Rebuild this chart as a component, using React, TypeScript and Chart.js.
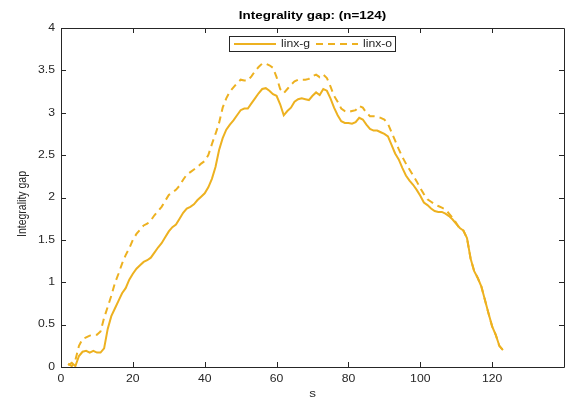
import React, { useEffect, useRef } from "react";
import { Chart, registerables } from "chart.js";

Chart.register(...registerables);

const chartTitle = "Integrality gap: (n=124)";
const xTitle = "s";
const yTitle = "Integrality gap";
const seriesNames = ["linx-g", "linx-o"];

const sValues = [
  2, 3, 4, 5, 6, 7, 8, 9, 10, 11, 12, 13, 14, 15, 16, 17, 18, 19, 20, 21,
  22, 23, 24, 25, 26, 27, 28, 29, 30, 31, 32, 33, 34, 35, 36, 37, 38, 39, 40, 41,
  42, 43, 44, 45, 46, 47, 48, 49, 50, 51, 52, 53, 54, 55, 56, 57, 58, 59, 60, 61,
  62, 63, 64, 65, 66, 67, 68, 69, 70, 71, 72, 73, 74, 75, 76, 77, 78, 79, 80, 81,
  82, 83, 84, 85, 86, 87, 88, 89, 90, 91, 92, 93, 94, 95, 96, 97, 98, 99, 100, 101,
  102, 103, 104, 105, 106, 107, 108, 109, 110, 111, 112, 113, 114, 115, 116, 117, 118, 119, 120, 121,
  122, 123,
];

const linxG = [
  0.02, 0.05, 0.01, 0.13, 0.18, 0.19, 0.17, 0.19, 0.17, 0.17, 0.22, 0.45, 0.6, 0.69, 0.78, 0.87, 0.93, 1.03, 1.1, 1.16,
  1.2, 1.24, 1.26, 1.29, 1.35, 1.41, 1.46, 1.53, 1.6, 1.65, 1.68, 1.75, 1.82, 1.87, 1.89, 1.92, 1.97, 2.01, 2.05, 2.12,
  2.22, 2.36, 2.56, 2.7, 2.8, 2.86, 2.91, 2.97, 3.03, 3.05, 3.05, 3.11, 3.17, 3.23, 3.28, 3.29, 3.26, 3.22, 3.2, 3.1,
  2.97, 3.02, 3.06, 3.13, 3.16, 3.17, 3.16, 3.15, 3.2, 3.24, 3.21, 3.28, 3.26, 3.17, 3.06, 2.97, 2.9, 2.88, 2.88, 2.87,
  2.89, 2.94, 2.92, 2.86, 2.81, 2.79, 2.79, 2.77, 2.75, 2.72, 2.62, 2.52, 2.45, 2.35, 2.26, 2.2, 2.15, 2.09, 2.02, 1.94,
  1.91, 1.87, 1.84, 1.83, 1.83, 1.81, 1.78, 1.74, 1.69, 1.64, 1.61, 1.52, 1.28, 1.13, 1.05, 0.95, 0.79, 0.63, 0.48, 0.38,
  0.25, 0.2,
];

const linxO = [
  0.04, 0.01, 0.08, 0.25, 0.33, 0.35, 0.37, 0.38, 0.38, 0.42, 0.58, 0.71, 0.84, 0.99, 1.1, 1.22, 1.32, 1.4, 1.5, 1.57,
  1.62, 1.67, 1.69, 1.73, 1.79, 1.84, 1.89, 1.96, 2.03, 2.06, 2.09, 2.14, 2.21, 2.27, 2.3, 2.33, 2.36, 2.4, 2.43, 2.5,
  2.63, 2.75, 2.88, 3.06, 3.17, 3.25, 3.3, 3.35, 3.39, 3.38, 3.38, 3.43, 3.49, 3.54, 3.58, 3.58, 3.56, 3.53, 3.42, 3.28,
  3.23, 3.28, 3.33, 3.37, 3.39, 3.39, 3.39, 3.4, 3.43, 3.45, 3.42, 3.45, 3.41, 3.31, 3.2, 3.13, 3.05, 3.02, 3.01, 3.02,
  3.03, 3.08, 3.06, 3.0, 2.96, 2.96, 2.95, 2.94, 2.92, 2.87, 2.77, 2.67, 2.57, 2.48, 2.4, 2.33, 2.26, 2.19, 2.11, 2.04,
  1.98, 1.95, 1.92, 1.9, 1.88, 1.86, 1.81, 1.76, 1.7, 1.63, 1.61, 1.52, 1.28, 1.13, 1.05, 0.95, 0.79, 0.63, 0.48, 0.38,
  0.25, 0.2,
];

const xTickValues = [0, 20, 40, 60, 80, 100, 120];
const yTickValues = [0, 0.5, 1, 1.5, 2, 2.5, 3, 3.5, 4];
const xTickLabels = ["0", "20", "40", "60", "80", "100", "120"];
const yTickLabels = ["0", "0.5", "1", "1.5", "2", "2.5", "3", "3.5", "4"];

const LINE_COLOR = "#EDB120";
const AXIS_COLOR = "#262626";
const FONT = "'Liberation Sans', Arial, Helvetica, sans-serif";
const STRETCH = 1.22;

function drawText(ctx: any, text: string, x: number, y: number, font: string, align: string, baseline: string, color: string) {
  ctx.save();
  ctx.font = font;
  ctx.fillStyle = color;
  ctx.textAlign = align;
  ctx.textBaseline = baseline;
  ctx.translate(x, y);
  ctx.scale(STRETCH, 1);
  ctx.fillText(text, 0, 0);
  ctx.restore();
}

const decorPlugin = {
  id: "matlabDecor",
  afterDatasetsDraw(chart: any) {
    const { ctx, chartArea } = chart;
    const { left, right, top, bottom } = chartArea;
    const xs = chart.scales.x;
    const ys = chart.scales.y;
    ctx.save();
    // box
    ctx.strokeStyle = AXIS_COLOR;
    ctx.lineWidth = 1;
    ctx.beginPath();
    ctx.rect(Math.round(left) + 0.5, Math.round(top) + 0.5, Math.round(right - left), Math.round(bottom - top));
    ctx.stroke();
    // inward ticks
    const tl = 5;
    ctx.beginPath();
    xTickValues.forEach((v) => {
      const px = Math.round(xs.getPixelForValue(v)) + 0.5;
      ctx.moveTo(px, bottom);
      ctx.lineTo(px, bottom - tl);
      ctx.moveTo(px, top);
      ctx.lineTo(px, top + tl);
    });
    yTickValues.forEach((v) => {
      const py = Math.round(ys.getPixelForValue(v)) + 0.5;
      ctx.moveTo(left, py);
      ctx.lineTo(left + tl, py);
      ctx.moveTo(right, py);
      ctx.lineTo(right - tl, py);
    });
    ctx.stroke();

    // tick labels
    const tickFont = `10px ${FONT}`;
    xTickValues.forEach((v, i) => {
      drawText(ctx, xTickLabels[i], xs.getPixelForValue(v), bottom + 12, tickFont, "center", "middle", AXIS_COLOR);
    });
    yTickValues.forEach((v, i) => {
      drawText(ctx, yTickLabels[i], left - 6, ys.getPixelForValue(v), tickFont, "right", "middle", AXIS_COLOR);
    });

    // title
    drawText(ctx, chartTitle, (left + right) / 2, 19, `bold 11px ${FONT}`, "center", "alphabetic", "#000000");

    // x axis title
    drawText(ctx, xTitle, (left + right) / 2, 397, `11px ${FONT}`, "center", "alphabetic", AXIS_COLOR);

    // y axis title (rotated, stretch along screen x)
    ctx.save();
    ctx.font = `10.5px ${FONT}`;
    ctx.fillStyle = AXIS_COLOR;
    ctx.textAlign = "center";
    ctx.textBaseline = "middle";
    ctx.translate(22, 204);
    ctx.rotate(-Math.PI / 2);
    ctx.scale(1, STRETCH);
    ctx.fillText(yTitle, 0, 0);
    ctx.restore();

    // legend
    const lx0 = 229;
    const lx1 = 395;
    const ly0 = 36;
    const ly1 = 51;
    ctx.fillStyle = "#ffffff";
    ctx.fillRect(lx0, ly0, lx1 - lx0, ly1 - ly0);
    ctx.strokeStyle = AXIS_COLOR;
    ctx.lineWidth = 1;
    ctx.strokeRect(lx0 + 0.5, ly0 + 0.5, lx1 - lx0, ly1 - ly0);
    const ly = (ly0 + ly1) / 2 + 0.5;
    const items = chart.data.datasets;
    const sampleStarts = [234, 316];
    items.forEach((ds: any, i: number) => {
      const sx = sampleStarts[i];
      ctx.strokeStyle = ds.borderColor;
      ctx.lineWidth = ds.borderWidth;
      ctx.setLineDash(ds.borderDash || []);
      ctx.beginPath();
      ctx.moveTo(sx, ly);
      ctx.lineTo(sx + 42, ly);
      ctx.stroke();
      ctx.setLineDash([]);
      drawText(ctx, ds.label, sx + 47, ly, `10px ${FONT}`, "left", "middle", AXIS_COLOR);
    });
    ctx.restore();
  },
};

export default function App() {
  const ref = useRef<HTMLCanvasElement | null>(null);
  useEffect(() => {
    document.body.style.margin = "0";
    const canvas = ref.current;
    if (!canvas) return;
    const chart = new Chart(canvas, {
      type: "line",
      data: {
        datasets: [
          {
            label: seriesNames[0],
            data: sValues.map((s, i) => ({ x: s, y: linxG[i] })),
            borderColor: LINE_COLOR,
            backgroundColor: LINE_COLOR,
            borderWidth: 2,
            pointRadius: 0,
            tension: 0,
            fill: false,
          },
          {
            label: seriesNames[1],
            data: sValues.map((s, i) => ({ x: s, y: linxO[i] })),
            borderColor: LINE_COLOR,
            backgroundColor: LINE_COLOR,
            borderWidth: 2,
            borderDash: [7, 5],
            pointRadius: 0,
            tension: 0,
            fill: false,
          },
        ],
      },
      options: {
        animation: false,
        responsive: false,
        maintainAspectRatio: false,
        layout: { padding: { top: 28, right: 2, left: 0, bottom: 0 } },
        plugins: {
          legend: { display: false },
          title: { display: false },
          tooltip: { enabled: false },
        },
        scales: {
          x: {
            type: "linear",
            min: 0,
            max: 140,
            afterBuildTicks: (scale: any) => {
              scale.ticks = xTickValues.map((v) => ({ value: v }));
            },
            afterFit: (scale: any) => {
              scale.height = 30;
            },
            grid: { display: false, drawTicks: false },
            border: { display: false },
            ticks: { display: false },
          },
          y: {
            type: "linear",
            min: 0,
            max: 4,
            afterBuildTicks: (scale: any) => {
              scale.ticks = yTickValues.map((v) => ({ value: v }));
            },
            afterFit: (scale: any) => {
              scale.width = 61;
            },
            grid: { display: false, drawTicks: false },
            border: { display: false },
            ticks: { display: false },
          },
        },
      },
      plugins: [decorPlugin],
    } as any);
    return () => chart.destroy();
  }, []);
  return (
    <div style={{ width: 566, height: 397 }}>
      <canvas ref={ref} width={566} height={397} style={{ display: "block", width: 566, height: 397 }} />
    </div>
  );
}
